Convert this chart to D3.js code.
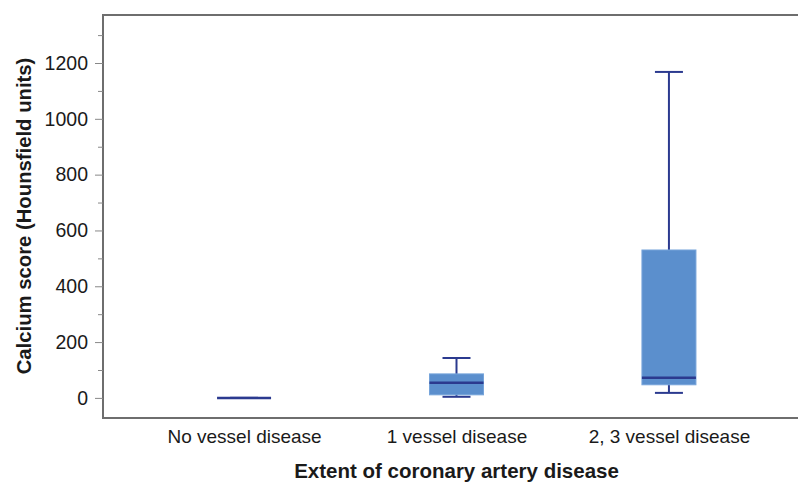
<!DOCTYPE html>
<html>
<head>
<meta charset="utf-8">
<script src="https://cdn.jsdelivr.net/npm/d3@7"></script>
<style>
  body { margin: 0; background: #fff; }
  text { font-family: Arial, "Liberation Sans", sans-serif; fill: #1a1a1a; }
</style>
</head>
<body>
<div id="chart"></div>
<script>
// categories and five-number summaries
var categories = ["No vessel disease", "1 vessel disease", "2, 3 vessel disease"];
var whiskerLow = [0, 4, 18];
var q1 = [0, 11, 47];
var median = [0, 54, 72];
var q3 = [0, 86, 530];
var whiskerHigh = [0, 143, 1168];
var majorTicks = [0, 200, 400, 600, 800, 1000, 1200];
var minorTicks = [100, 300, 500, 700, 900, 1100, 1300];

var boxes = categories.map(function (c, i) {
  return { cat: c, lo: whiskerLow[i], q1: q1[i], med: median[i], q3: q3[i], hi: whiskerHigh[i] };
});

var W = 798, H = 482;
var plot = { left: 103, top: 15, right: 810, bottom: 418 };

var svg = d3.select("#chart").append("svg")
  .attr("width", W)
  .attr("height", H);

var x = d3.scalePoint().domain(categories).range([plot.left, plot.right]).padding(0.664);
var y = d3.scaleLinear().domain([-72, 1372]).range([plot.bottom, plot.top]);

var boxW = 54, capW = 28;
var navy = "#2b3a8f";

// frame
svg.append("rect")
  .attr("x", plot.left).attr("y", plot.top)
  .attr("width", plot.right - plot.left).attr("height", plot.bottom - plot.top)
  .attr("fill", "none")
  .attr("stroke", "#6e6e6e")
  .attr("stroke-width", 2);

// y axis (major + minor ticks)
var yaxis = svg.append("g")
  .attr("transform", "translate(" + plot.left + ",0)")
  .call(d3.axisLeft(y).tickValues(majorTicks).tickFormat(d3.format("d")).tickSize(8).tickPadding(7));
yaxis.select(".domain").remove();
yaxis.selectAll("line").attr("stroke", "#888");
yaxis.selectAll("text").style("font-size", "19.5px").attr("fill", "#1a1a1a");

var yminor = svg.append("g")
  .attr("transform", "translate(" + plot.left + ",0)")
  .call(d3.axisLeft(y).tickValues(minorTicks).tickSize(5).tickFormat(""));
yminor.select(".domain").remove();
yminor.selectAll("line").attr("stroke", "#888");

// x axis labels
var xaxis = svg.append("g")
  .attr("transform", "translate(0," + plot.bottom + ")")
  .call(d3.axisBottom(x).tickSize(0).tickPadding(12));
xaxis.select(".domain").remove();
xaxis.selectAll("text").style("font-size", "19px").attr("fill", "#1a1a1a");

// axis titles
svg.append("text")
  .attr("x", x(categories[1]))
  .attr("y", 478)
  .attr("text-anchor", "middle")
  .style("font-size", "20.5px")
  .style("font-weight", "bold")
  .text("Extent of coronary artery disease");

svg.append("text")
  .attr("transform", "translate(31," + 216 + ") rotate(-90)")
  .attr("text-anchor", "middle")
  .style("font-size", "20.3px")
  .style("font-weight", "bold")
  .text("Calcium score (Hounsfield units)");

// boxplots
var g = svg.selectAll(".box").data(boxes).enter().append("g").attr("class", "box");

// whisker stems
g.append("line")
  .attr("x1", function (d) { return x(d.cat); })
  .attr("x2", function (d) { return x(d.cat); })
  .attr("y1", function (d) { return y(d.hi); })
  .attr("y2", function (d) { return y(d.lo); })
  .attr("stroke", navy).attr("stroke-width", 2);

// caps
g.selectAll(".cap")
  .data(function (d) { return [{ cat: d.cat, v: d.lo }, { cat: d.cat, v: d.hi }]; })
  .enter().append("line")
  .attr("x1", function (d) { return x(d.cat) - capW / 2; })
  .attr("x2", function (d) { return x(d.cat) + capW / 2; })
  .attr("y1", function (d) { return y(d.v); })
  .attr("y2", function (d) { return y(d.v); })
  .attr("stroke", navy).attr("stroke-width", 2);

// boxes
g.append("rect")
  .attr("x", function (d) { return x(d.cat) - boxW / 2; })
  .attr("width", boxW)
  .attr("y", function (d) { return y(d.q3); })
  .attr("height", function (d) { return y(d.q1) - y(d.q3); })
  .attr("fill", "#5b8fcd")
  .attr("stroke", "#76a4da")
  .attr("stroke-width", 1);

// medians
g.append("line")
  .attr("x1", function (d) { return x(d.cat) - boxW / 2; })
  .attr("x2", function (d) { return x(d.cat) + boxW / 2; })
  .attr("y1", function (d) { return y(d.med); })
  .attr("y2", function (d) { return y(d.med); })
  .attr("stroke", navy).attr("stroke-width", 2.5);
</script>
</body>
</html>
